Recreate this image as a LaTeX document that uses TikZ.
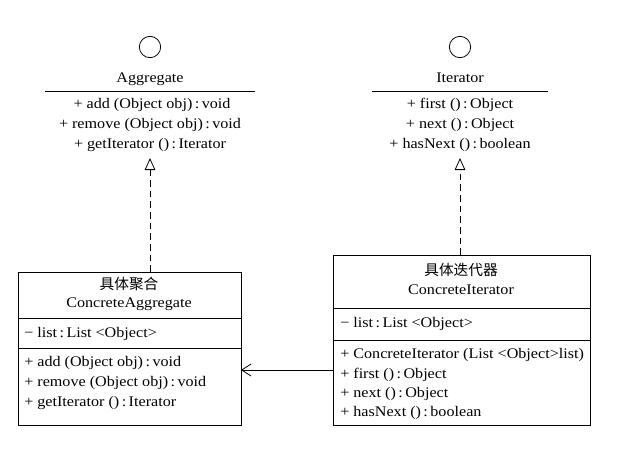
\documentclass[tikz,border=0pt]{standalone}
\usepackage{fontspec}
\setmainfont[FakeStretch=1.1]{Liberation Serif}
\newfontfamily\cjk{Noto Sans CJK SC}
\usetikzlibrary{arrows.meta}
\newcommand{\cl}{\,:\,}
\begin{document}
\begin{tikzpicture}[x=0.75pt,y=-0.75pt,
  txt/.style={font=\fontsize{11}{12}\selectfont,inner sep=0pt,anchor=base},
  ltxt/.style={txt,anchor=base west},
  box/.style={draw,line width=0.6pt},
  real/.style={dashed,dash pattern=on 5pt off 3pt,line width=0.6pt,-{Triangle[open,length=9pt,width=8pt]}},
  assoc/.style={line width=0.6pt,-{Straight Barb[length=7pt,width=9pt]}}]
\useasboundingbox (0,0) rectangle (632,458);
% Aggregate interface
\node[draw,circle,minimum size=16pt,inner sep=0pt,line width=0.6pt] (ac) at (150,47) {};
\node[txt] (an) at (150,82) {Aggregate};
\draw[line width=0.6pt] (45,91) -- (255,91);
\node[txt] (a1) at (152,108) {+ add (Object obj)\cl void};
\node[txt] (a2) at (150,128) {+ remove (Object obj)\cl void};
\node[txt] (a3) at (150,148) {+ getIterator ()\cl Iterator};
\coordinate (atop) at (150,158);
% Iterator interface
\node[draw,circle,minimum size=16pt,inner sep=0pt,line width=0.6pt] (ic) at (460,47) {};
\node[txt] (in) at (460,82) {Iterator};
\draw[line width=0.6pt] (372,91) -- (548,91);
\node[txt] (i1) at (460,108) {+ first ()\cl Object};
\node[txt] (i2) at (460,128) {+ next ()\cl Object};
\node[txt] (i3) at (460,148) {+ hasNext ()\cl boolean};
\coordinate (itop) at (460,158);
% ConcreteAggregate
\draw[box] (18,272) rectangle (241,425);
\coordinate (caT) at (150,272);
\coordinate (caR) at (241,370);
\node[txt] at (129,289) {\cjk 具体聚合};
\node[txt] at (129,307) {ConcreteAggregate};
\draw[box] (18,318) -- (241,318);
\node[ltxt] at (24,337) {− list\cl List <Object>};
\draw[box] (18,348) -- (241,348);
\node[ltxt] at (24,366) {+ add (Object obj)\cl void};
\node[ltxt] at (24,386) {+ remove (Object obj)\cl void};
\node[ltxt] at (24,406) {+ getIterator ()\cl Iterator};
% ConcreteIterator
\draw[box] (333,255) rectangle (590,425);
\coordinate (ciT) at (460,255);
\coordinate (ciL) at (333,370);
\node[txt] at (461,275) {\cjk 具体迭代器};
\node[txt] at (461,294) {ConcreteIterator};
\draw[box] (333,308) -- (590,308);
\node[ltxt] at (340,327) {− list\cl List <Object>};
\draw[box] (333,340) -- (590,340);
\node[ltxt] at (340,358) {+ ConcreteIterator (List <Object>list)};
\node[ltxt] at (340,378) {+ first ()\cl Object};
\node[ltxt] at (340,397) {+ next ()\cl Object};
\node[ltxt] at (340,416) {+ hasNext ()\cl boolean};
% connectors
\draw[real] (caT) -- (atop);
\draw[real] (ciT) -- (itop);
\draw[assoc] (ciL) -- (caR);
\end{tikzpicture}
\end{document}
